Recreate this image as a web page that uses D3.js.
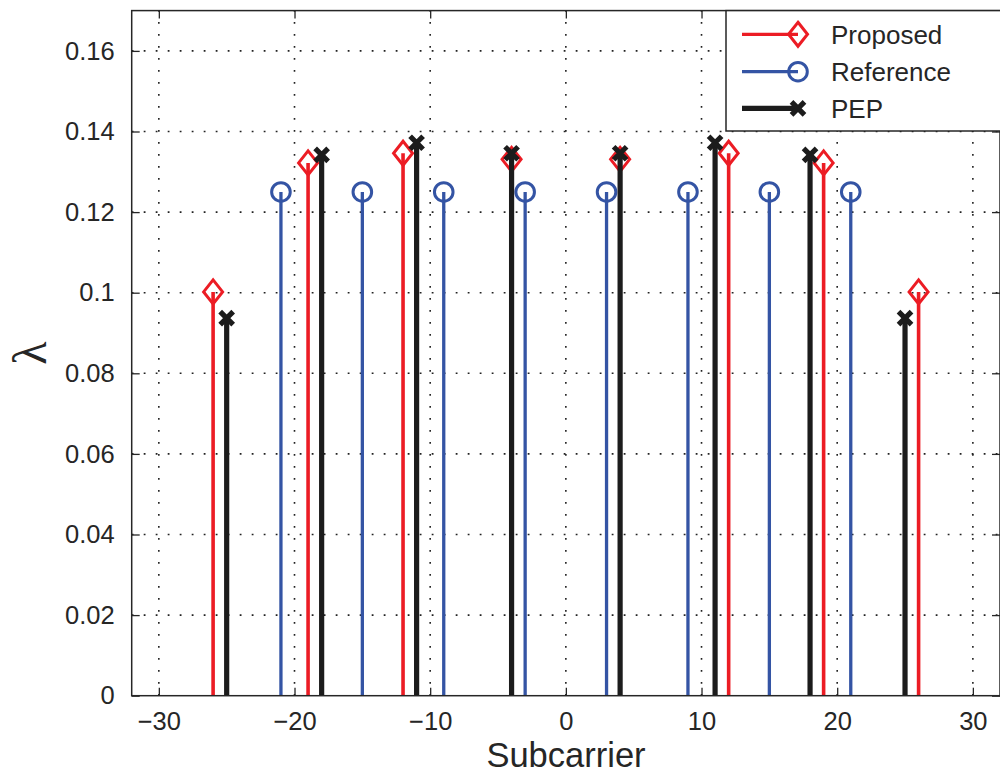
<!DOCTYPE html>
<html>
<head>
<meta charset="utf-8">
<script src="https://cdn.jsdelivr.net/npm/d3@7/dist/d3.min.js"></script>
<style>
  html, body { margin: 0; padding: 0; background: #fff; }
  svg { display: block; }
  text { font-family: "Liberation Sans", Arial, Helvetica, sans-serif; fill: #262626; }
</style>
</head>
<body>
<svg id="chart" width="1000" height="774"></svg>
<script>
// ---- data ----
const proposedX = [-26, -19, -12, -4, 4, 12, 19, 26];
const proposedY = [0.1002, 0.1322, 0.1346, 0.1331, 0.1331, 0.1346, 0.1322, 0.1002];
const referenceX = [-21, -15, -9, -3, 3, 9, 15, 21];
const referenceY = [0.125, 0.125, 0.125, 0.125, 0.125, 0.125, 0.125, 0.125];
const pepX = [-25, -18, -11, -4, 4, 11, 18, 25];
const pepY = [0.0937, 0.1342, 0.1372, 0.1346, 0.1346, 0.1372, 0.1342, 0.0937];
const xTicks = [-30, -20, -10, 0, 10, 20, 30];
const xTickLabels = ["\u221230", "\u221220", "\u221210", "0", "10", "20", "30"];
const yTicks = [0, 0.02, 0.04, 0.06, 0.08, 0.1, 0.12, 0.14, 0.16];
const yTickLabels = ["0", "0.02", "0.04", "0.06", "0.08", "0.1", "0.12", "0.14", "0.16"];
const seriesNames = ["Proposed", "Reference", "PEP"];

// ---- layout ----
const L = 131.7, R = 1000, T = 10.6, B = 695.7;
const svg = d3.select("#chart");
const x = d3.scaleLinear().domain([-32, 32]).range([L, R]);
const y = d3.scaleLinear().domain([0, 0.17]).range([B, T]);

const RED = "#ec1c24", BLUE = "#3454a4", BLACK = "#1c1c1c", AX = "#262626";

// grid
const grid = svg.append("g");
grid.selectAll(".gx").data(xTicks).enter().append("line")
  .attr("x1", d => x(d)).attr("x2", d => x(d)).attr("y1", B).attr("y2", T)
  .attr("stroke", "#222").attr("stroke-width", 1.6).attr("stroke-dasharray", "1.8,10.2");
grid.selectAll(".gy").data(yTicks.filter(d => d > 0)).enter().append("line")
  .attr("y1", d => y(d)).attr("y2", d => y(d)).attr("x1", L).attr("x2", R)
  .attr("stroke", "#222").attr("stroke-width", 1.6).attr("stroke-dasharray", "1.8,10.2");

// axes via d3 axis
const tickLen = 8;
const xAxis = svg.append("g").attr("transform", `translate(0,${B})`)
  .call(d3.axisBottom(x).tickValues(xTicks).tickSizeInner(-tickLen).tickSizeOuter(0)
    .tickPadding(16).tickFormat((d, i) => xTickLabels[i]));
const yAxis = svg.append("g").attr("transform", `translate(${L},0)`)
  .call(d3.axisLeft(y).tickValues(yTicks).tickSizeInner(-tickLen).tickSizeOuter(0)
    .tickPadding(17).tickFormat((d, i) => yTickLabels[i]));
const xTop = svg.append("g").attr("transform", `translate(0,${T})`)
  .call(d3.axisTop(x).tickValues(xTicks).tickSizeInner(-tickLen).tickSizeOuter(0).tickFormat(""));
const yRight = svg.append("g").attr("transform", `translate(${R},0)`)
  .call(d3.axisRight(y).tickValues(yTicks).tickSizeInner(-tickLen).tickSizeOuter(0).tickFormat(""));
[xAxis, yAxis, xTop, yRight].forEach(g => {
  g.select(".domain").remove();
  g.selectAll(".tick line").attr("stroke", AX).attr("stroke-width", 1.3);
  g.selectAll("text").attr("fill", AX).style("font-size", "25.5px")
    .style("font-family", "'Liberation Sans', Arial, sans-serif");
});
xAxis.selectAll("text").attr("dy", "0.71em");

// stems
function stems(xs, ys, color, width) {
  const g = svg.append("g");
  g.selectAll("line").data(xs).enter().append("line")
    .attr("x1", d => x(d)).attr("x2", d => x(d))
    .attr("y1", y(0)).attr("y2", (d, i) => y(ys[i]))
    .attr("stroke", color).attr("stroke-width", width);
  return g;
}
const dia = (hw, hh) => `M0,${-hh}L${hw},0L0,${hh}L${-hw},0Z`;
const cross = s => `M${-s},${-s}L${s},${s}M${-s},${s}L${s},${-s}`;

const gP = stems(proposedX, proposedY, RED, 3.6);
gP.selectAll("path").data(proposedX).enter().append("path")
  .attr("transform", (d, i) => `translate(${x(d)},${y(proposedY[i])})`)
  .attr("d", dia(9.5, 12)).attr("fill", "none").attr("stroke", RED).attr("stroke-width", 3);

const gR = stems(referenceX, referenceY, BLUE, 3.3);
gR.selectAll("circle").data(referenceX).enter().append("circle")
  .attr("cx", d => x(d)).attr("cy", (d, i) => y(referenceY[i])).attr("r", 9.3)
  .attr("fill", "none").attr("stroke", BLUE).attr("stroke-width", 3);

const gK = stems(pepX, pepY, BLACK, 5.2);
gK.selectAll("path").data(pepX).enter().append("path")
  .attr("transform", (d, i) => `translate(${x(d)},${y(pepY[i])})`)
  .attr("d", cross(6.5)).attr("fill", "none").attr("stroke", BLACK).attr("stroke-width", 5.2);

// frame
svg.append("rect").attr("x", L).attr("y", T).attr("width", R - L).attr("height", B - T)
  .attr("fill", "none").attr("stroke", AX).attr("stroke-width", 1.5);

// axis labels
svg.append("text").attr("x", 566).attr("y", 766.5).attr("text-anchor", "middle")
  .style("font-size", "34.5px").text("Subcarrier");
svg.append("text").attr("transform", "translate(46,353) rotate(-90)")
  .attr("text-anchor", "middle")
  .style("font-family", "'Liberation Serif', 'DejaVu Serif', serif")
  .style("font-size", "48px").text("\u03bb");

// legend
const lg = svg.append("g");
lg.append("rect").attr("x", 726).attr("y", T).attr("width", 290).attr("height", 131 - T)
  .attr("fill", "#fff").attr("stroke", AX).attr("stroke-width", 1.5);
const rows = [34.3, 71.7, 108.3];
const colors = [RED, BLUE, BLACK];
const widths = [3.2, 3.2, 5.2];
seriesNames.forEach((name, i) => {
  lg.append("line").attr("x1", 742).attr("x2", 798).attr("y1", rows[i]).attr("y2", rows[i])
    .attr("stroke", colors[i]).attr("stroke-width", widths[i]);
  if (i === 0) lg.append("path").attr("transform", `translate(798,${rows[i]})`)
    .attr("d", dia(9.5, 12)).attr("fill", "none").attr("stroke", RED).attr("stroke-width", 3);
  if (i === 1) lg.append("circle").attr("cx", 798).attr("cy", rows[i]).attr("r", 9.3)
    .attr("fill", "none").attr("stroke", BLUE).attr("stroke-width", 3);
  if (i === 2) lg.append("path").attr("transform", `translate(798,${rows[i]})`)
    .attr("d", cross(6.5)).attr("fill", "none").attr("stroke", BLACK).attr("stroke-width", 5.2);
  lg.append("text").attr("x", 831).attr("y", rows[i]).attr("dy", "0.36em")
    .style("font-size", "26px").text(name);
});
</script>
</body>
</html>
